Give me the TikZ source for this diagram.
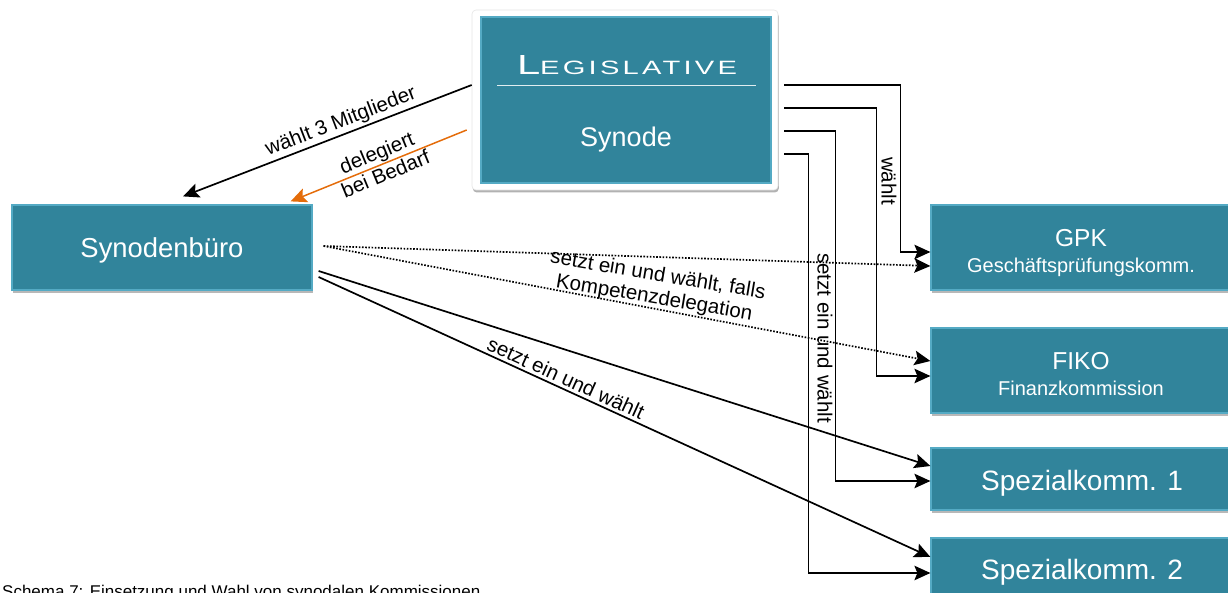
\documentclass[tikz,border=0pt]{standalone}
\usepackage{fontspec}
\setmainfont{Liberation Sans}
\usetikzlibrary{arrows.meta,shadows,calc}
\definecolor{teal1}{RGB}{49,132,155}
\definecolor{tealb}{RGB}{84,170,196}
\definecolor{orng}{RGB}{228,108,10}
\begin{document}
\begin{tikzpicture}[x=1pt,y=-1pt,
  box/.style={draw=tealb,line width=1.2pt,fill=teal1,inner sep=0pt},
  shad/.style={drop shadow={shadow xshift=0.5pt,shadow yshift=-3pt,opacity=0.28,fill=black}},
  wtxt/.style={text=white,inner sep=0pt,anchor=base},
  lbl/.style={inner sep=0pt,font=\fontsize{20.5}{23}\selectfont,align=center},
  conn/.style={line width=1.7pt,-{Stealth[length=16pt,width=14.5pt,inset=3pt]}},
  dotconn/.style={conn,dash pattern=on 1.6pt off 1.6pt},
]
\useasboundingbox (0,0) rectangle (1228,593);
\clip (0,0) rectangle (1228,593);

% Legislative frame
\node[fill=white,draw=black!10,line width=0.6pt,rounded corners=4pt,minimum width=306pt,minimum height=180pt,inner sep=0pt,
  drop shadow={shadow xshift=0.8pt,shadow yshift=-2.5pt,opacity=0.3,fill=black}] (leg) at (625,100) {};
\node[box,minimum width=290pt,minimum height=166pt] (syn) at (626,100) {};
\node[wtxt] (legt) at (627,75) {\resizebox{220pt}{19pt}{\addfontfeatures{LetterSpace=11}\fontsize{26.5}{26.5}\selectfont L\fontsize{18.5}{18.5}\selectfont EGISLATIVE}};
\draw[white!85!teal1,line width=1pt] (497,86) -- (756,86);
\node[wtxt,font=\fontsize{27}{30}\selectfont] (synt) at (626,147) {Synode};

% Synodenbuero
\node[box,shad,minimum width=300pt,minimum height=85pt] (sb) at (162,247.5) {};
\node[wtxt,font=\fontsize{27.4}{30}\selectfont] (sbt) at (162,258) {Synodenbüro};

% right boxes
\node[box,shad,minimum width=300pt,minimum height=85pt] (gpk) at (1081,247.5) {};
\node[wtxt,font=\fontsize{24.5}{28}\selectfont] (gpkt) at (1081,247) {GPK};
\node[wtxt,font=\fontsize{20}{24}\selectfont] (gpks) at (1081,273) {Geschäftsprüfungskomm.};

\node[box,shad,minimum width=300pt,minimum height=85pt] (fiko) at (1081,370.5) {};
\node[wtxt,font=\fontsize{24.5}{28}\selectfont] (fikot) at (1081,370) {FIKO};
\node[wtxt,font=\fontsize{20}{24}\selectfont] (fikos) at (1081,395) {Finanzkommission};

\node[box,shad,minimum width=300pt,minimum height=62pt] (sp1) at (1081,479) {};
\node[wtxt,font=\fontsize{28}{30}\selectfont] (sp1t) at (1082,490) {Spezialkomm. 1};

\node[box,shad,minimum width=300pt,minimum height=62pt] (sp2) at (1081,569) {};
\node[wtxt,font=\fontsize{28}{30}\selectfont] (sp2t) at (1082,579) {Spezialkomm. 2};

% start points on the right of the Synode
\coordinate (s1) at ($(leg.north east)+(6,75)$);
\coordinate (s2) at ($(leg.north east)+(6,98)$);
\coordinate (s3) at ($(leg.north east)+(6,121)$);
\coordinate (s4) at ($(leg.north east)+(6,144)$);
\coordinate (d0) at ($(sb.east)+(11,-1.5)$);

% connectors
\draw[conn] (s1) -| ($(gpk.west)+(-30,4.5)$) -- ($(gpk.west)+(0,4.5)$);
\draw[conn] (s2) -| ($(fiko.west)+(-54,5.5)$) -- ($(fiko.west)+(0,5.5)$);
\draw[conn] (s3) -| ($(sp1.west)+(-95,2)$) -- ($(sp1.west)+(0,2)$);
\draw[conn] (s4) -| ($(sp2.west)+(-122,4)$) -- ($(sp2.west)+(0,4)$);

\draw[dotconn] (d0) -- ($(gpk.west)+(0,18.5)$);
\draw[dotconn] (d0) -- ($(fiko.west)+(0,-9.5)$);
\draw[conn] ($(sb.east)+(6,23.5)$) -- ($(sp1.west)+(0,-13)$);
\draw[conn] ($(sb.east)+(6,29.5)$) -- ($(sp2.west)+(0,-12)$);

\draw[conn] ($(leg.west)+(0,-15)$) -- ($(sb.north)+(21,-8)$);
\draw[conn,orng,line width=1.5pt] ($(leg.west)+(-5,30)$) -- ($(sb.north east)+(-22,-3)$);

% labels
\node[lbl,rotate=21] (l1) at (341,122) {wählt 3 Mitglieder};
\node[lbl,rotate=22.5] (l2) at (381,163) {delegiert\\bei Bedarf};
\node[lbl,rotate=-90] (l3) at (889,181) {wählt};
\node[lbl,rotate=-90] (l4) at (825,338) {setzt ein und wählt};
\node[lbl,rotate=-9.5] (l5) at (656,287) {setzt ein und wählt, falls\\Kompetenzdelegation};
\node[lbl,rotate=-24.5] (l6) at (566,378) {setzt ein und wählt};

% caption
\node[inner sep=0pt,anchor=base west,font=\fontsize{17}{20}\selectfont] (cap) at (2,597.5) {Schema 7: Einsetzung und Wahl von synodalen Kommissionen};
\end{tikzpicture}
\end{document}
